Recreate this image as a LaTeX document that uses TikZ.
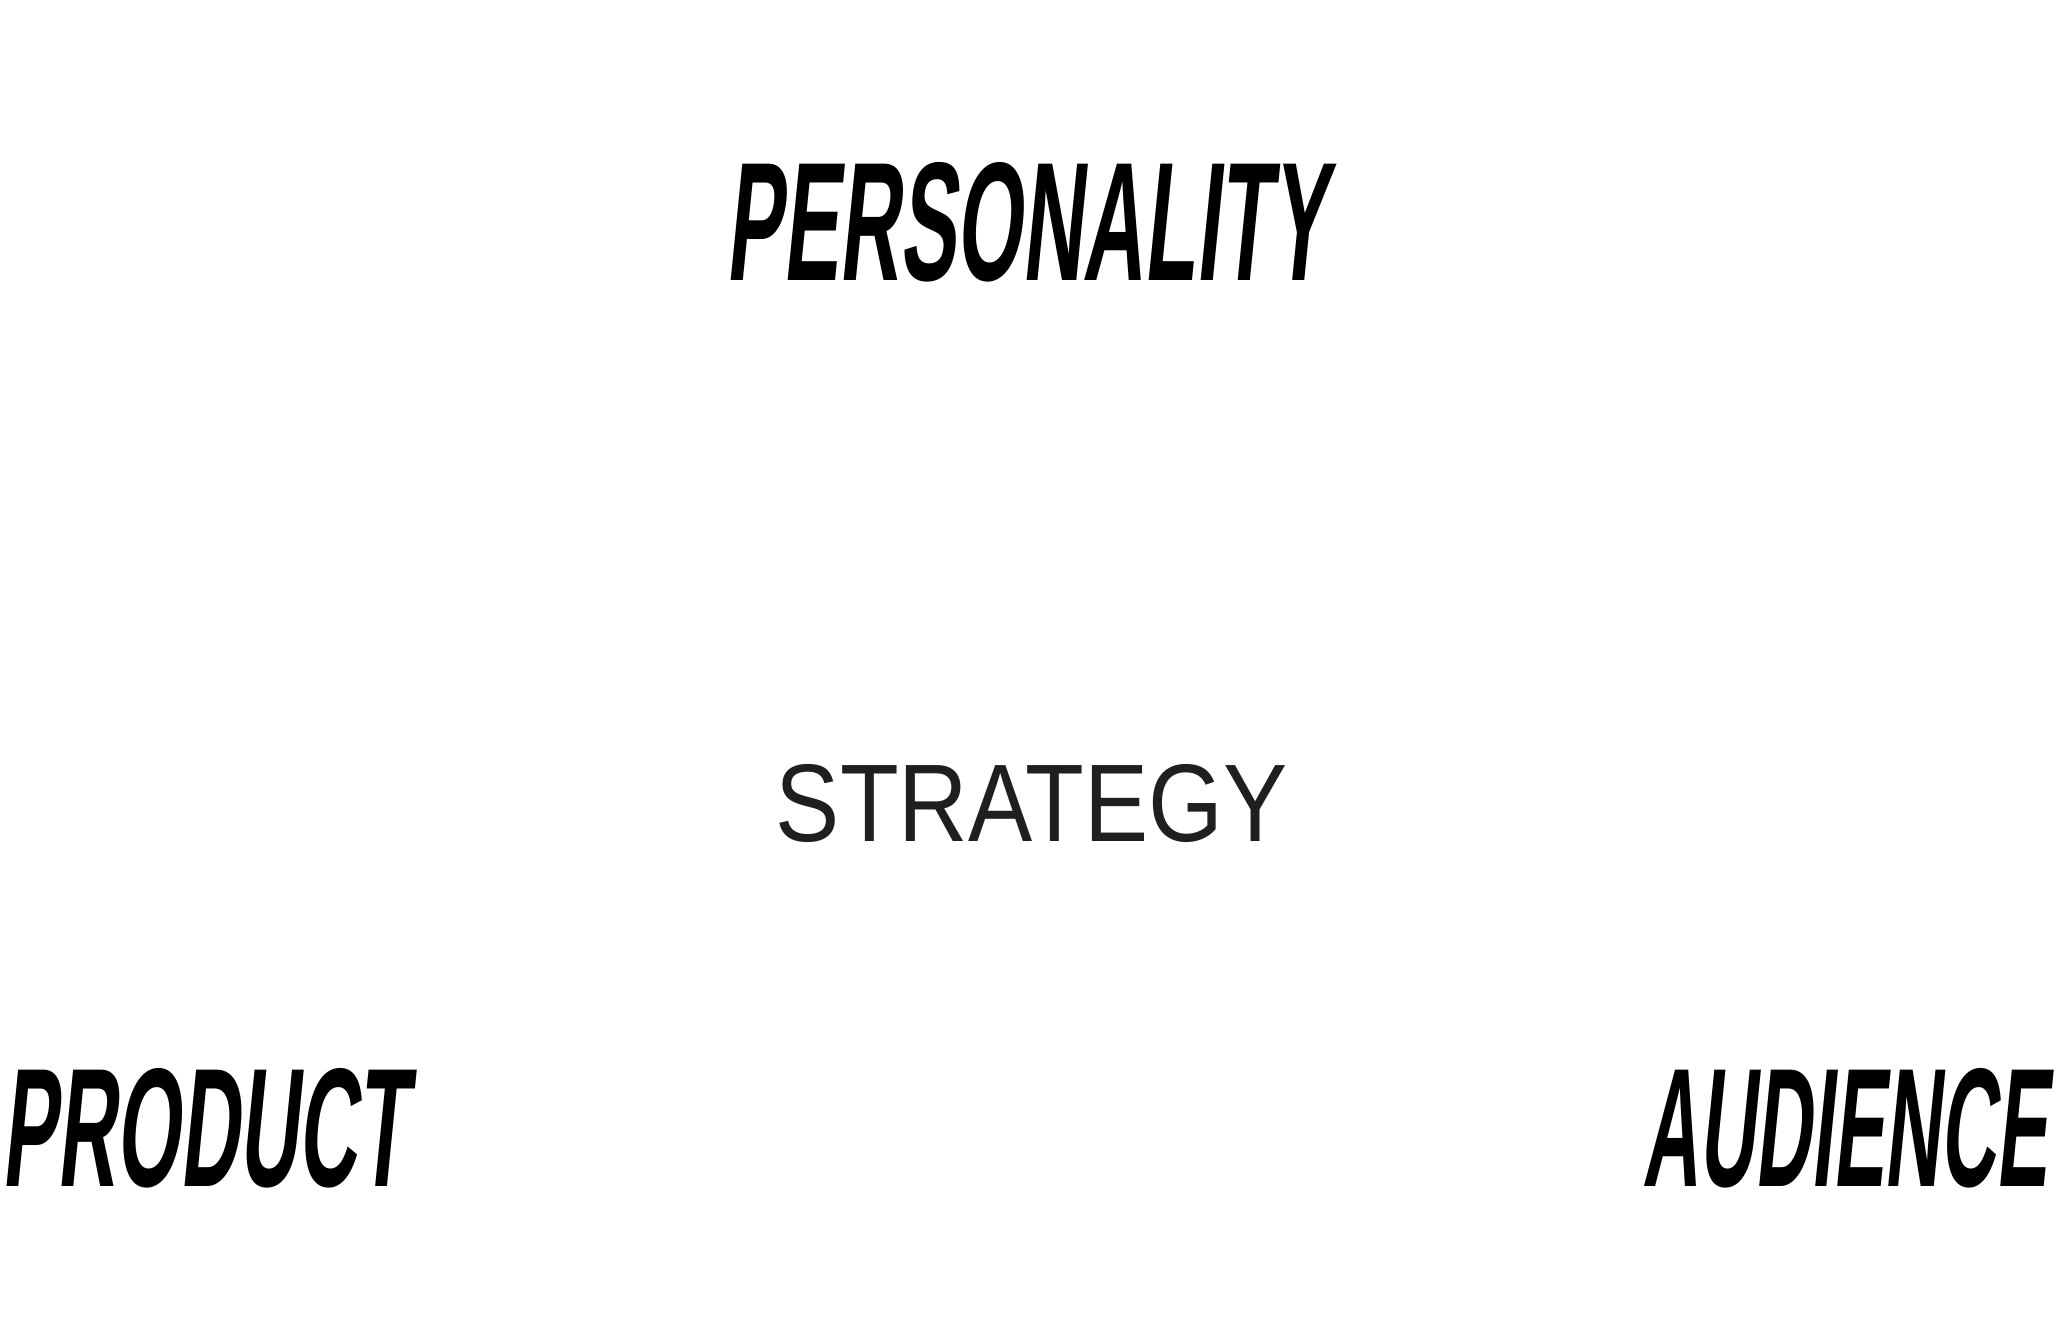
\documentclass[tikz,border=0pt]{standalone}
\usepackage{fontspec}
\setmainfont{Liberation Sans}
\newfontfamily\handfont{Liberation Sans}[BoldFont={Liberation Sans Bold}]
\newfontfamily\plainfont{Liberation Sans}
\usepackage{graphicx}
\definecolor{textgray}{HTML}{1F1F1F}
\begin{document}
\begin{tikzpicture}[x=1pt,y=-1pt,
  hand/.style={inner sep=0pt, outer sep=0pt, anchor=center, text=black, xslant=0.1},
  plain/.style={inner sep=0pt, outer sep=0pt, anchor=center, text=textgray}]
\useasboundingbox[fill=white] (0,0) rectangle (2063,1323);
\node[hand] (personality) at (1032,222) {\resizebox{600pt}{118pt}{\handfont\bfseries PERSONALITY}};
\node[plain] (strategy) at (1031.5,803.5) {\resizebox{511pt}{77pt}{\plainfont STRATEGY}};
\node[hand] (product) at (210,1128) {\resizebox{405pt}{118pt}{\handfont\bfseries PRODUCT}};
\node[hand] (audience) at (1851,1128) {\resizebox{405pt}{118pt}{\handfont\bfseries AUDIENCE}};
\end{tikzpicture}
\end{document}
